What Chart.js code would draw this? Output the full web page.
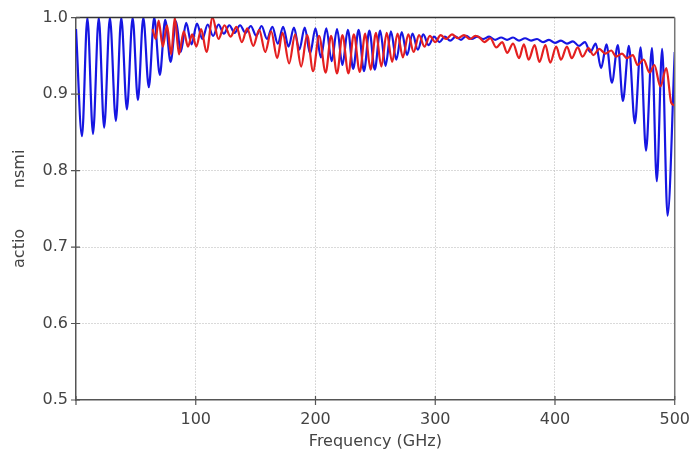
<!DOCTYPE html>
<html lang="en">
<head>
    <meta charset="UTF-8">
    <title>Frequency response</title>
    <style>
        body { margin: 0; background: #ffffff; }
        #wrap { width: 690px; height: 459px; }
    </style>
</head>
<body>
    <div id="wrap"><canvas id="chart" width="690" height="459"></canvas></div>
    <script src="https://cdn.jsdelivr.net/npm/chart.js"></script>
    <script>
        // extrema: [GHz, value]
        const bluePoints = [
            [0, 0.985], [5, 0.845], [9.5, 1.0], [14.2, 0.848], [19, 1.0], [23.5, 0.856],
            [28.3, 1.0], [33.3, 0.865], [37.8, 1.0], [42.5, 0.880], [47.3, 1.0], [51.7, 0.892],
            [56.2, 1.0], [60.8, 0.909], [65.3, 1.0], [70, 0.925], [74.5, 0.997], [79, 0.942],
            [83.5, 0.995], [87.5, 0.955], [92, 0.993], [96.5, 0.965], [101, 0.992], [105.5, 0.972],
            [110, 0.991], [114.5, 0.976], [119, 0.991], [123.5, 0.979], [128, 0.990], [132.5, 0.980],
            [137, 0.990], [141.5, 0.980], [146, 0.989], [150.5, 0.976], [155, 0.989], [159.5, 0.972],
            [164, 0.988], [168.5, 0.966], [173, 0.988], [177.5, 0.962], [182, 0.987], [186.5, 0.958],
            [191, 0.987], [195.5, 0.953], [200, 0.986], [204.5, 0.948], [209, 0.986], [213.5, 0.943],
            [218, 0.985], [222.5, 0.938], [227, 0.984], [231.5, 0.933], [236, 0.984], [240.5, 0.930],
            [245, 0.983], [249.5, 0.932], [254, 0.983], [258.5, 0.937], [263, 0.982], [267.5, 0.945],
            [272, 0.981], [276.5, 0.951], [281, 0.979], [285.5, 0.958], [290, 0.978], [294.5, 0.964],
            [299, 0.975], [303.5, 0.968], [308, 0.975], [312.5, 0.970], [317, 0.975], [321.5, 0.971],
            [326, 0.976], [330.5, 0.972], [335, 0.975], [340, 0.972], [345, 0.975], [350, 0.971],
            [355, 0.974], [360, 0.971], [365, 0.974], [370, 0.970], [375, 0.973], [380, 0.970],
            [385, 0.972], [390, 0.968], [395, 0.971], [400, 0.967], [405, 0.970], [410, 0.966],
            [415, 0.969], [420, 0.963], [425, 0.968], [429.5, 0.955], [434, 0.966], [438.5, 0.934],
            [443, 0.965], [447.5, 0.915], [452.5, 0.964], [456.7, 0.891], [461.7, 0.963], [466.7, 0.862],
            [471.5, 0.961], [476, 0.826], [481, 0.960], [485, 0.786], [489.5, 0.959], [494, 0.741],
            [500, 0.955]
        ];

        const redPoints = [
            [64, 0.985], [66.5, 0.972], [69, 0.996], [72.5, 0.962], [76, 0.990], [79.5, 0.952],
            [82.5, 1.0], [86, 0.952], [90, 0.982], [93.5, 0.962], [97, 0.978], [100.5, 0.962],
            [104.5, 0.985], [109, 0.955], [114, 1.0], [119, 0.972], [124, 0.990], [129, 0.975],
            [134, 0.988], [138.5, 0.968], [143, 0.986], [148, 0.963], [153, 0.984], [158, 0.955],
            [163, 0.982], [168, 0.947], [172.5, 0.980], [178, 0.940], [183, 0.978], [188, 0.936],
            [193, 0.977], [198, 0.930], [203, 0.976], [208.5, 0.928], [213, 0.976], [218, 0.927],
            [222.5, 0.977], [227.5, 0.927], [232, 0.978], [237, 0.929], [241.5, 0.979], [246, 0.932],
            [250.5, 0.980], [255, 0.936], [259.5, 0.980], [264, 0.942], [268.5, 0.979], [273, 0.948],
            [277.5, 0.978], [282, 0.955], [286.5, 0.977], [291, 0.962], [295.5, 0.976], [300, 0.968],
            [304.5, 0.977], [309, 0.972], [314, 0.978], [319, 0.973], [324, 0.977], [329, 0.972],
            [333.5, 0.976], [337, 0.974], [341, 0.968], [346, 0.973], [351, 0.961], [356, 0.968],
            [360, 0.954], [365, 0.966], [370, 0.947], [374, 0.965], [378, 0.945], [383, 0.964],
            [387, 0.942], [392, 0.964], [396, 0.941], [401, 0.962], [405, 0.945], [410, 0.962],
            [414, 0.947], [419, 0.961], [423, 0.949], [428, 0.960], [432, 0.951], [437, 0.959],
            [442, 0.953], [447, 0.957], [451, 0.949], [456, 0.953], [460, 0.947], [465, 0.951],
            [469, 0.938], [474, 0.945], [479, 0.928], [483, 0.938], [488, 0.910], [493, 0.934],
            [497, 0.889], [500, 0.885]
        ];

        const xTickValues = [0, 100, 200, 300, 400, 500];
        const yTickValues = [0.5, 0.6, 0.7, 0.8, 0.9, 1.0];
        const xTitle = 'Frequency (GHz)';
        const yTitle = 'actio\u00A0\u00A0\u00A0\u00A0\u00A0\u00A0\u00A0\u00A0nsmi';

        const axisColor = '#555555';
        const textColor = '#444444';
        const gridColor = '#b4b4b4';
        const font = { family: 'DejaVu Sans', size: 16 };

        const toXY = pts => pts.map(p => ({ x: p[0], y: p[1] }));

        // frame on top and right, and short tick marks on both axes
        const framePlugin = {
            id: 'frame',
            afterDraw(chart) {
                const { ctx, chartArea: a, scales } = chart;
                ctx.save();
                ctx.strokeStyle = '#333333';
                ctx.lineWidth = 1.5;
                ctx.beginPath();
                ctx.moveTo(a.left, a.top);
                ctx.lineTo(a.right, a.top);
                ctx.stroke();
                ctx.strokeStyle = '#777777';
                ctx.beginPath();
                ctx.moveTo(a.right, a.top);
                ctx.lineTo(a.right, a.bottom);
                ctx.stroke();
                ctx.strokeStyle = axisColor;
                ctx.lineWidth = 1.2;
                ctx.beginPath();
                xTickValues.forEach(v => {
                    const px = scales.x.getPixelForValue(v);
                    ctx.moveTo(px, a.bottom - 4);
                    ctx.lineTo(px, a.bottom + 5);
                });
                yTickValues.forEach(v => {
                    const py = scales.y.getPixelForValue(v);
                    ctx.moveTo(a.left - 5, py);
                    ctx.lineTo(a.left + 4, py);
                });
                ctx.stroke();
                ctx.restore();
            }
        };

        new Chart(document.getElementById('chart'), {
            type: 'line',
            data: {
                datasets: [{
                    data: toXY(bluePoints),
                    borderColor: '#1616e2',
                    borderWidth: 2.2,
                    pointRadius: 0,
                    cubicInterpolationMode: 'monotone',
                    fill: false,
                    order: 2
                }, {
                    data: toXY(redPoints),
                    borderColor: '#e42020',
                    borderWidth: 2.2,
                    pointRadius: 0,
                    cubicInterpolationMode: 'monotone',
                    fill: false,
                    order: 1
                }]
            },
            options: {
                responsive: false,
                animation: false,
                layout: { padding: { top: 12, right: 14, left: 0, bottom: 0 } },
                plugins: {
                    legend: { display: false },
                    tooltip: { enabled: false }
                },
                scales: {
                    x: {
                        type: 'linear',
                        min: 0,
                        max: 500,
                        afterBuildTicks: s => { s.ticks = xTickValues.map(v => ({ value: v })); },
                        afterFit: s => { s.height = 59; },
                        ticks: {
                            color: textColor,
                            font: font,
                            padding: 0,
                            maxRotation: 0,
                            callback: v => (v === 0 ? '' : String(v))
                        },
                        grid: {
                            color: c => (c.tick.value === 0 || c.tick.value === 500 ? 'rgba(0,0,0,0)' : gridColor),
                            lineWidth: 1,
                            drawTicks: true,
                            tickLength: 10,
                            tickColor: 'rgba(0,0,0,0)'
                        },
                        border: { display: true, color: axisColor, width: 1.5, dash: [1, 2] },
                        title: { display: true, text: xTitle, color: textColor, font: font, padding: { top: 0, bottom: 8 } }
                    },
                    y: {
                        min: 0.5,
                        max: 1.0,
                        afterBuildTicks: s => { s.ticks = yTickValues.map(v => ({ value: v })); },
                        afterFit: s => { s.width = 76; },
                        ticks: {
                            color: textColor,
                            font: font,
                            padding: 8,
                            callback: v => v.toFixed(1)
                        },
                        grid: {
                            color: c => (c.tick.value === 0.5 || c.tick.value === 1.0 ? 'rgba(0,0,0,0)' : gridColor),
                            lineWidth: 1,
                            drawTicks: false
                        },
                        border: { display: true, color: axisColor, width: 1.5, dash: [1, 2] },
                        title: { display: true, text: yTitle, color: textColor, font: font, padding: { top: 10, bottom: 0 } }
                    }
                }
            },
            plugins: [framePlugin]
        });
    </script>
</body>
</html>
